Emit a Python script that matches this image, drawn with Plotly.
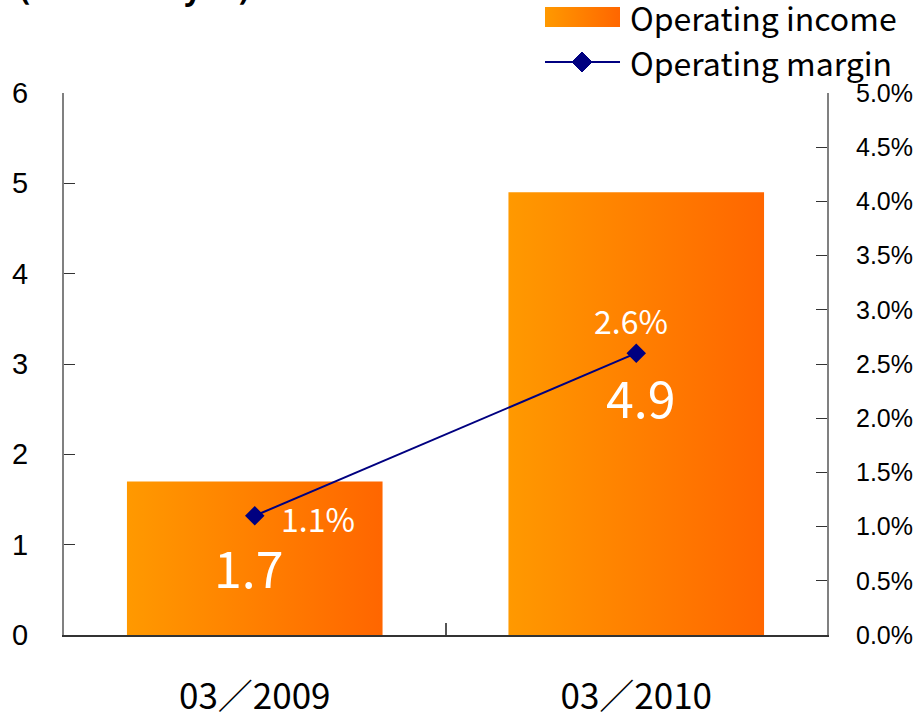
import base64
import plotly.graph_objects as go

# ---- data ----
categories = ["03／2009", "03／2010"]
operating_income = [1.7, 4.9]          # billions of yen
operating_margin = [0.011, 0.026]      # fraction
income_labels = ["1.7", "4.9"]
margin_labels = ["1.1%", "2.6%"]
left_ticks = [0, 1, 2, 3, 4, 5, 6]
right_ticks = [0, 0.005, 0.01, 0.015, 0.02, 0.025, 0.03, 0.035, 0.04, 0.045, 0.05]
series_names = ["Operating income", "Operating margin"]

# ---- style ----
W, H = 917, 715
ML, MR, MT, MB = 64, 90, 93, 80
PW, PH = W - ML - MR, H - MT - MB
BAR_W = 0.67
JP = "Noto Sans CJK JP"
SANS = "Liberation Sans, Arial, sans-serif"
C0, C1 = "#FF9900", "#FF6600"
grad = [[0, C0], [1, C1]]
navy = "#000080"


def px(x):
    return (x - ML) / PW


def py(y):
    return 1 - (y - MT) / PH


x_idx = list(range(len(categories)))

fig = go.Figure()

for i, v in zip(x_idx, operating_income):
    xl, xr = i - BAR_W / 2, i + BAR_W / 2
    fig.add_trace(go.Scatter(
        x=[xl, xr, xr, xl, xl], y=[0, 0, v, v, 0],
        mode="lines", fill="toself",
        fillgradient=dict(type="horizontal", colorscale=grad),
        line=dict(width=0, color="#FF8000"),
        name=series_names[0], showlegend=False, hoverinfo="skip",
    ))

fig.add_trace(go.Scatter(
    x=x_idx, y=operating_margin, yaxis="y2",
    mode="lines+markers", name=series_names[1], showlegend=False,
    line=dict(color=navy, width=2),
    marker=dict(symbol="diamond", size=15, color=navy),
))

# data labels
inc_shift = [-8, 18]
inc_xshift = [-6, 4]
for i, v, t, ys, xs in zip(x_idx, operating_income, income_labels, inc_shift, inc_xshift):
    fig.add_annotation(x=i, y=v / 2, text=t, showarrow=False, yshift=ys, xshift=xs,
                       font=dict(family=JP, size=50, color="white"))

m_xshift = [63, -5]
m_yshift = [-2, 33]
for i, v, t, xs, ys in zip(x_idx, operating_margin, margin_labels, m_xshift, m_yshift):
    fig.add_annotation(x=i, y=v, yref="y2", text=t, showarrow=False, xshift=xs, yshift=ys,
                       font=dict(family=JP, size=32, color="white"))

# unit title (cut off at top, as in the reference)
fig.add_annotation(xref="paper", yref="paper", x=px(18),
                   y=py(11), xanchor="left", yanchor="bottom",
                   text="(billions of yen)", showarrow=False,
                   font=dict(family="Noto Sans", size=30, color="black", weight="bold"))

# ---- manual legend ----
svg = ('<svg xmlns="http://www.w3.org/2000/svg" width="75" height="20" preserveAspectRatio="none">'
       '<defs><linearGradient id="g" x1="0" y1="0" x2="1" y2="0">'
       f'<stop offset="0" stop-color="{C0}"/><stop offset="1" stop-color="{C1}"/>'
       '</linearGradient></defs><rect width="75" height="20" fill="url(#g)"/></svg>')
src = "data:image/svg+xml;base64," + base64.b64encode(svg.encode()).decode()
fig.add_layout_image(source=src, xref="paper", yref="paper", x=px(545), y=py(7),
                     sizex=px(620) - px(545), sizey=py(7) - py(27),
                     xanchor="left", yanchor="top", sizing="stretch", layer="above")
fig.add_shape(type="line", xref="paper", yref="paper", x0=px(545), x1=px(620),
              y0=py(62), y1=py(62), line=dict(color=navy, width=2))
cx, cy, r = 582, 62, 10
fig.add_shape(type="path", xref="paper", yref="paper",
              path=f"M{px(cx - r)},{py(cy)} L{px(cx)},{py(cy - r)} L{px(cx + r)},{py(cy)} L{px(cx)},{py(cy + r)} Z",
              fillcolor=navy, line=dict(color=navy, width=1))
for name, yy in zip(series_names, [17, 62]):
    fig.add_annotation(xref="paper", yref="paper", x=px(628), y=py(yy),
                       xanchor="left", yanchor="middle", text=name, showarrow=False,
                       font=dict(family=JP, size=32, color="black"))

fig.update_layout(
    width=W, height=H,
    margin=dict(l=ML, r=MR, t=MT, b=MB, autoexpand=False),
    plot_bgcolor="white", paper_bgcolor="white",
    showlegend=False,
    xaxis=dict(range=[-0.5, 1.5], tickvals=x_idx, ticktext=categories,
               ticks="", showline=True, linecolor="#333333", linewidth=2,
               showgrid=False, zeroline=False, automargin=False, ticklabelstandoff=30,
               tickfont=dict(family=JP, size=35, color="black"),
               minor=dict(tickvals=[0.5], ticks="inside", ticklen=12,
                          tickcolor="#555555", tickwidth=2)),
    yaxis=dict(range=[0, 6], tickvals=left_ticks, ticks="inside", ticklen=11,
               tickcolor="#333333", showline=True, linecolor="#808080", linewidth=2,
               showgrid=False, zeroline=False, ticklabelstandoff=28, automargin=False,
               tickfont=dict(family=SANS, size=29, color="black")),
    yaxis2=dict(range=[0, 0.05], tickvals=right_ticks, tickformat=".1%",
                overlaying="y", side="right", ticks="inside", ticklen=11,
                tickcolor="#333333", showline=True, linecolor="#808080", linewidth=2,
                showgrid=False, zeroline=False, ticklabelstandoff=22, automargin=False,
                tickfont=dict(family=SANS, size=25, color="black")),
)

fig.write_html("out.html", config={"displayModeBar": False},
               post_script="document.body.style.margin='0';document.body.style.overflow='hidden';")
